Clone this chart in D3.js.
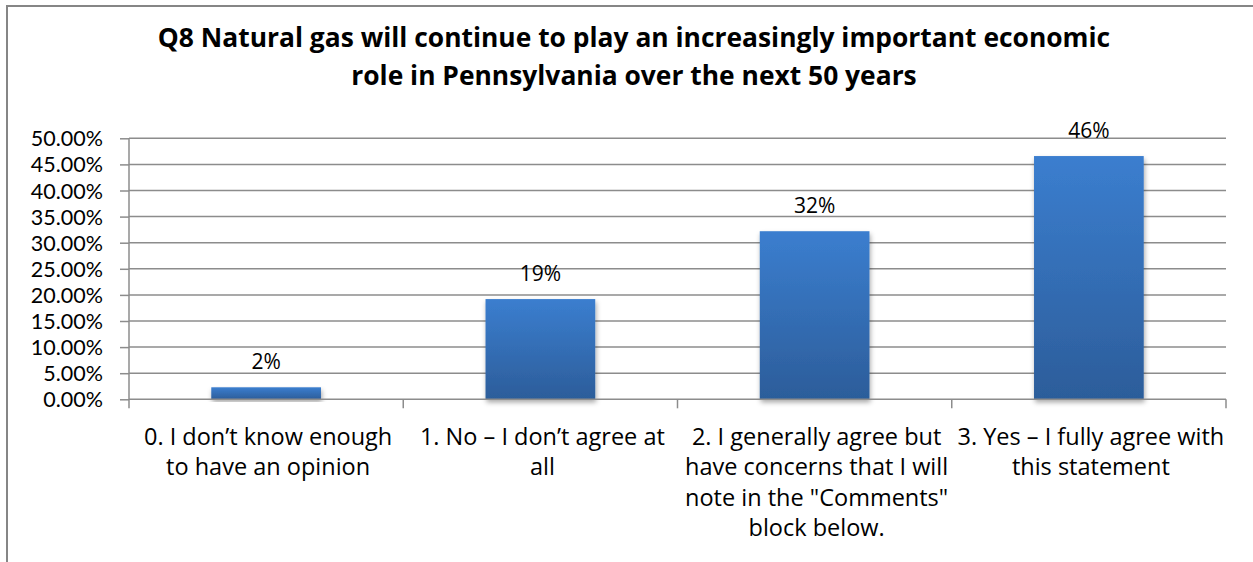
<!DOCTYPE html>
<html><head><meta charset="utf-8">
<script src="https://cdn.jsdelivr.net/npm/d3@7"></script>
<style>body{margin:0;background:#fff}svg{display:block}</style>
</head><body>
<svg id="c" width="1253" height="562"></svg>
<script>
const categories = [
  ["0. I don\u2019t know enough", "to have an opinion"],
  ["1. No \u2013 I don\u2019t agree at", "all"],
  ["2. I generally agree but", "have concerns that I will", "note in the \"Comments\"", "block below."],
  ["3. Yes \u2013 I fully agree with", "this statement"]
];
const values = [0.023, 0.192, 0.322, 0.466];
const valueLabels = ["2%", "19%", "32%", "46%"];
const yTicks = [0, 0.05, 0.10, 0.15, 0.20, 0.25, 0.30, 0.35, 0.40, 0.45, 0.50];
const titleLines = ["Q8 Natural gas will continue to play an increasingly important economic", "role in Pennsylvania over the next 50 years"];

const FONT = "'Open Sans', Lato, sans-serif";
const TICKFONT = "Lato, 'Open Sans', sans-serif";
const svg = d3.select("#c");
const L = 129, R = 1226, T = 138.3, B = 399.3;

const defs = svg.append("defs");
const g = defs.append("linearGradient").attr("id","bg").attr("x1",0).attr("y1",0).attr("x2",0).attr("y2",1);
g.append("stop").attr("offset","0%").attr("stop-color","#3b7ecf");
g.append("stop").attr("offset","100%").attr("stop-color","#2c5d9a");
const f = defs.append("filter").attr("id","sh").attr("x","-10%").attr("y","-10%").attr("width","130%").attr("height","130%");
f.append("feDropShadow").attr("dx",1).attr("dy",3).attr("stdDeviation",2.5).attr("flood-color","#000").attr("flood-opacity",0.35);

svg.append("path").attr("d","M7,563 L7,6 L1253,6").attr("fill","none").attr("stroke","#868686").attr("stroke-width",2);

const x = d3.scaleBand().domain(d3.range(categories.length)).range([L,R]).paddingInner(0.6).paddingOuter(0.3);
const y = d3.scaleLinear().domain([0,0.5]).range([B,T]);

svg.append("g").selectAll("line").data(yTicks.slice(1)).join("line")
  .attr("x1",L).attr("x2",R).attr("y1",d=>y(d)).attr("y2",d=>y(d))
  .attr("stroke","#8c8c8c").attr("stroke-width",1.5);

const ya = svg.append("g").attr("transform",`translate(${L},0)`)
  .call(d3.axisLeft(y).tickValues(yTicks).tickFormat(d3.format(".2%")).tickSize(9).tickPadding(17));
ya.select(".domain").attr("stroke","#8c8c8c").attr("stroke-width",1.5).attr("d",`M0,${T}V${B}`);
ya.selectAll(".tick line").attr("stroke","#8c8c8c").attr("stroke-width",1.5);
ya.selectAll(".tick text").attr("font-family",TICKFONT).attr("font-size",21.5).attr("fill","#000").attr("dy","0.35em");

svg.append("g").selectAll("rect").data(values).join("rect")
  .attr("x",(d,i)=>x(i)).attr("width",x.bandwidth())
  .attr("y",d=>y(d)).attr("height",d=>B-y(d))
  .attr("fill","url(#bg)").attr("filter","url(#sh)");

const bandStep = (R-L)/categories.length;
const xa = svg.append("g");
xa.append("line").attr("x1",L).attr("x2",R).attr("y1",B).attr("y2",B).attr("stroke","#8c8c8c").attr("stroke-width",1.5);
xa.selectAll("line.t").data(d3.range(categories.length+1)).join("line").attr("class","t")
  .attr("x1",i=>L+i*bandStep).attr("x2",i=>L+i*bandStep).attr("y1",B).attr("y2",B+9)
  .attr("stroke","#8c8c8c").attr("stroke-width",1.5);
categories.forEach((lines,i)=>{
  const t = xa.append("text").attr("text-anchor","middle").attr("font-family",FONT).attr("font-size",23.5).attr("fill","#000");
  lines.forEach((ln,j)=>t.append("tspan").attr("x",x(i)+x.bandwidth()/2+2).attr("y",445+j*30.3).text(ln));
});

svg.append("g").selectAll("text").data(values).join("text")
  .attr("x",(d,i)=>x(i)+x.bandwidth()/2).attr("y",d=>y(d)-18)
  .attr("text-anchor","middle").attr("font-family",FONT).attr("font-size",21).attr("fill","#000")
  .text((d,i)=>valueLabels[i]);

const tt = svg.append("text").attr("text-anchor","middle").attr("font-family",FONT).attr("font-weight","bold").attr("font-size",26.4).attr("fill","#000");
titleLines.forEach((ln,j)=>tt.append("tspan").attr("x",634).attr("y",47+j*38).text(ln));
</script>
</body></html>
